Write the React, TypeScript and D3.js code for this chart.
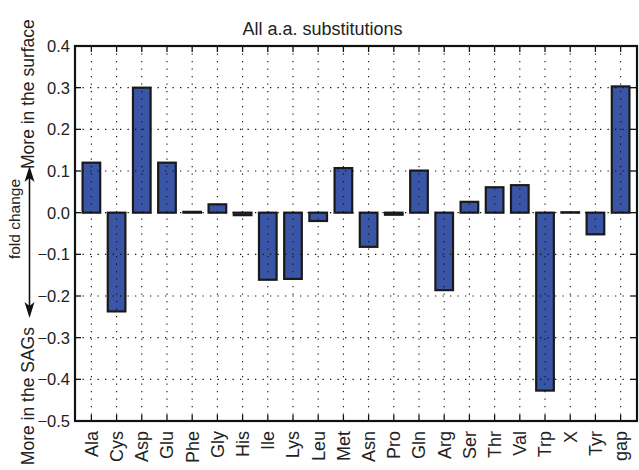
import React, { useEffect, useRef } from "react";
import * as d3 from "d3";

const categories = [
	"Ala", "Cys", "Asp", "Glu", "Phe", "Gly", "His", "Ile", "Lys", "Leu", "Met",
	"Asn", "Pro", "Gln", "Arg", "Ser", "Thr", "Val", "Trp", "X", "Tyr", "gap",
];
const foldChange = [
	0.12, -0.237, 0.3, 0.12, 0.002, 0.02, -0.006, -0.161, -0.159, -0.02, 0.107,
	-0.082, -0.005, 0.101, -0.186, 0.026, 0.061, 0.066, -0.427, 0.001, -0.052, 0.303,
];
const yTicks = [0.4, 0.3, 0.2, 0.1, 0.0, -0.1, -0.2, -0.3, -0.4, -0.5];

const W = 639;
const H = 470;
const FONT = "'Liberation Sans', Arial, Helvetica, sans-serif";

export default function App() {
	const ref = useRef<SVGSVGElement>(null);

	useEffect(() => {
		const left = 75;
		const right = 637;
		const top = 46;
		const bottom = 421;

		const svg = d3.select(ref.current);
		svg.selectAll("*").remove();

		// Scales
		const xScale = d3
			.scaleLinear()
			.domain([-0.65, categories.length - 1 + 0.65])
			.range([left, right]);
		const step = xScale(1) - xScale(0);
		const barW = step * 0.7;

		const yScale = d3.scaleLinear().domain([-0.5, 0.4]).range([bottom, top]);

		// Bars
		svg
			.append("g")
			.selectAll("rect")
			.data(foldChange)
			.join("rect")
			.attr("x", (d, i) => xScale(i) - barW / 2)
			.attr("y", d => yScale(Math.max(0, d)))
			.attr("width", barW)
			.attr("height", d => Math.abs(yScale(d) - yScale(0)))
			.attr("fill", "#3b55a6")
			.attr("stroke", "#1a1a1a")
			.attr("stroke-width", 2.2);

		// Grid (drawn over bars)
		const grid = svg.append("g").attr("stroke", "#111").attr("stroke-width", 1.1).attr("stroke-dasharray", "1.3,6.2");
		grid
			.selectAll("line.v")
			.data(categories)
			.join("line")
			.attr("class", "v")
			.attr("x1", (d, i) => xScale(i))
			.attr("x2", (d, i) => xScale(i))
			.attr("y1", top)
			.attr("y2", bottom);
		grid
			.selectAll("line.h")
			.data(yTicks.slice(1, -1))
			.join("line")
			.attr("class", "h")
			.attr("x1", left)
			.attr("x2", right)
			.attr("y1", d => yScale(d))
			.attr("y2", d => yScale(d));

		// Inward ticks
		const ticks = svg.append("g").attr("stroke", "#111").attr("stroke-width", 1.3);
		const tl = 6;
		yTicks.forEach(v => {
			const y = yScale(v);
			ticks.append("line").attr("x1", left).attr("x2", left + tl).attr("y1", y).attr("y2", y);
			ticks.append("line").attr("x1", right - tl).attr("x2", right).attr("y1", y).attr("y2", y);
		});
		categories.forEach((c, i) => {
			const x = xScale(i);
			ticks.append("line").attr("x1", x).attr("x2", x).attr("y1", bottom).attr("y2", bottom - tl);
			ticks.append("line").attr("x1", x).attr("x2", x).attr("y1", top).attr("y2", top + tl);
		});

		// Frame
		svg
			.append("rect")
			.attr("x", left)
			.attr("y", top)
			.attr("width", right - left)
			.attr("height", bottom - top)
			.attr("fill", "none")
			.attr("stroke", "#111")
			.attr("stroke-width", 2.2);

		// y tick labels
		svg
			.append("g")
			.selectAll("text")
			.data(yTicks)
			.join("text")
			.attr("x", left - 5)
			.attr("y", d => yScale(d))
			.attr("dy", "0.36em")
			.attr("text-anchor", "end")
			.attr("font-family", FONT)
			.attr("font-size", 16.5)
			.attr("fill", "#222")
			.text(d => d3.format(".1f")(d).replace("-", "\u2212"));

		// x tick labels
		svg
			.append("g")
			.selectAll("text")
			.data(categories)
			.join("text")
			.attr("transform", (d, i) => `translate(${xScale(i)}, ${bottom + 10}) rotate(-90)`)
			.attr("dy", "0.36em")
			.attr("text-anchor", "end")
			.attr("font-family", FONT)
			.attr("font-size", 18)
			.attr("fill", "#222")
			.text(d => d);

		// Title
		svg
			.append("text")
			.attr("x", 322.5)
			.attr("y", 35)
			.attr("text-anchor", "middle")
			.attr("font-family", FONT)
			.attr("font-size", 18)
			.attr("fill", "#222")
			.text("All a.a. substitutions");

		// y-axis label: two phrases with a double arrow between them
		const lx = 33.5;
		svg
			.append("text")
			.attr("transform", `translate(${lx}, 169) rotate(-90)`)
			.attr("text-anchor", "start")
			.attr("font-family", FONT)
			.attr("font-size", 17.5)
			.attr("fill", "#222")
			.text("More in the surface");
		svg
			.append("text")
			.attr("transform", `translate(${lx}, 327) rotate(-90)`)
			.attr("text-anchor", "end")
			.attr("font-family", FONT)
			.attr("font-size", 17.5)
			.attr("fill", "#222")
			.text("More in the SAGs");

		const ax = 29.5;
		const a1 = 166;
		const a2 = 318;
		svg
			.append("line")
			.attr("x1", ax)
			.attr("x2", ax)
			.attr("y1", a1 + 8)
			.attr("y2", a2 - 8)
			.attr("stroke", "#111")
			.attr("stroke-width", 1.6);
		svg
			.append("path")
			.attr("d", `M${ax},${a1} L${ax - 5},${a1 + 16} L${ax},${a1 + 12} L${ax + 5},${a1 + 16} Z`)
			.attr("fill", "#111");
		svg
			.append("path")
			.attr("d", `M${ax},${a2} L${ax - 5},${a2 - 16} L${ax},${a2 - 12} L${ax + 5},${a2 - 16} Z`)
			.attr("fill", "#111");

		svg
			.append("text")
			.attr("transform", `translate(19.5, 219) rotate(-90)`)
			.attr("text-anchor", "middle")
			.attr("font-family", FONT)
			.attr("font-size", 15.5)
			.attr("fill", "#222")
			.text("fold change");
	}, []);

	return (
		<svg
			ref={ref}
			width={W}
			height={H}
			viewBox={`0 0 ${W} ${H}`}
			style={{ position: "absolute", left: 0, top: 0, background: "#fff" }}
		/>
	);
}
